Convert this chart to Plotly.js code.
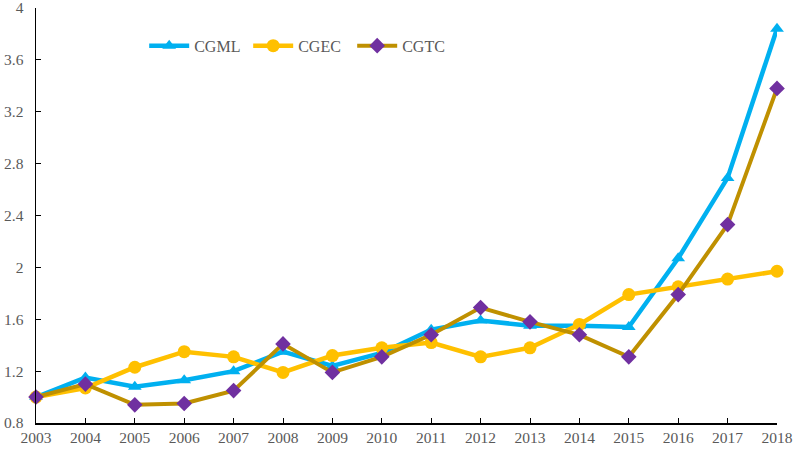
<!DOCTYPE html>
<html>
<head>
<meta charset="utf-8">
<script src="https://cdn.plot.ly/plotly-3.0.1.min.js"></script>
<style>
  html, body { margin: 0; padding: 0; background: #fff; }
  #chart { width: 796px; height: 449px; }
</style>
</head>
<body>
<div id="chart"></div>
<script>
var years = [2003, 2004, 2005, 2006, 2007, 2008, 2009, 2010, 2011, 2012, 2013, 2014, 2015, 2016, 2017, 2018];
var cgml = [1.00, 1.15, 1.08, 1.13, 1.20, 1.35, 1.24, 1.34, 1.52, 1.59, 1.55, 1.55, 1.54, 2.07, 2.69, 3.84];
var cgec = [1.00, 1.07, 1.23, 1.35, 1.31, 1.19, 1.32, 1.38, 1.42, 1.31, 1.38, 1.56, 1.79, 1.85, 1.91, 1.97];
var cgtc = [1.00, 1.10, 0.94, 0.95, 1.05, 1.41, 1.19, 1.31, 1.48, 1.69, 1.58, 1.48, 1.31, 1.79, 2.33, 3.38];
var yTicks = [0.8, 1.2, 1.6, 2, 2.4, 2.8, 3.2, 3.6, 4];

var data = [{
  type: 'scatter',
  mode: 'lines+markers',
  name: 'CGML',
  x: years,
  y: cgml,
  line: {color: '#00B0F0', width: 4.5},
  marker: {symbol: 'triangle-up', size: 12, color: '#00B0F0'},
  cliponaxis: false
}, {
  type: 'scatter',
  mode: 'lines+markers',
  name: 'CGEC',
  x: years,
  y: cgec,
  line: {color: '#FFC000', width: 4.5},
  marker: {symbol: 'circle', size: 13, color: '#FFC000'},
  cliponaxis: false
}, {
  type: 'scatter',
  mode: 'lines+markers',
  name: 'CGTC',
  x: years,
  y: cgtc,
  line: {color: '#BF9000', width: 4},
  marker: {symbol: 'diamond', size: 12, color: '#7030A0'},
  cliponaxis: false
}];

var layout = {
  width: 796,
  height: 449,
  margin: {l: 36, r: 19, t: 8, b: 26},
  paper_bgcolor: '#fff',
  plot_bgcolor: '#fff',
  font: {family: 'Liberation Serif', size: 15.5, color: '#595959'},
  showlegend: true,
  legend: {
    orientation: 'h',
    x: 0.146,
    y: 0.95,
    xanchor: 'left',
    yanchor: 'top',
    itemwidth: 40,
    entrywidth: 49,
    font: {family: 'Liberation Serif', size: 16, color: '#595959'},
    bgcolor: 'rgba(0,0,0,0)'
  },
  xaxis: {
    range: [2003, 2018],
    tickvals: years,
    ticktext: years.map(String),
    showline: true,
    linecolor: '#000',
    linewidth: 1.5,
    ticks: 'inside',
    ticklen: 5,
    tickcolor: '#000',
    ticklabeloverflow: 'allow',
    showgrid: false,
    zeroline: false
  },
  yaxis: {
    range: [0.8, 4],
    tickvals: yTicks,
    ticktext: yTicks.map(String),
    showline: true,
    linecolor: '#000',
    linewidth: 1.5,
    ticks: 'inside',
    ticklen: 5,
    tickcolor: '#000',
    ticklabelstandoff: 8,
    ticklabeloverflow: 'allow',
    showgrid: false,
    zeroline: false
  }
};

Plotly.newPlot('chart', data, layout, {displayModeBar: false, staticPlot: true});
</script>
</body>
</html>
